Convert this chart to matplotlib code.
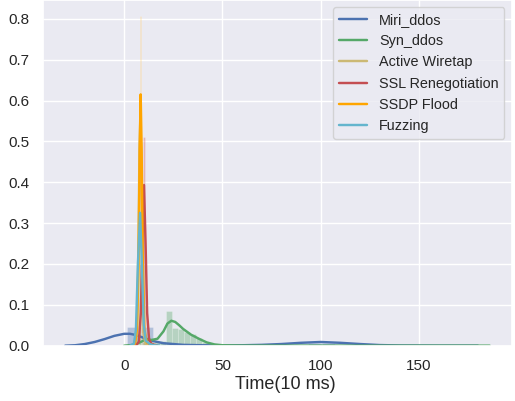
import numpy as np
import matplotlib
matplotlib.use("Agg")
import matplotlib.pyplot as plt
import seaborn as sns

sns.set_theme(style="darkgrid", color_codes=True)
plt.rcParams["font.family"] = ["Liberation Sans", "DejaVu Sans"]

# ── 読み取ったデータ ──────────────────────────────────────────────
labels = ["Miri_ddos", "Syn_ddos", "Active Wiretap", "SSL Renegotiation", "SSDP Flood", "Fuzzing"]
colors = ["b", "g", "y", "r", "orange", "c"]

# Miri_ddos
miri_edges = [1.3, 8.1, 14.9, 21.7, 28.5, 87.0, 93.8, 100.6, 107.4, 114.2]
miri_hist = [0.046, 0.046, 0.004, 0.001, 0.0, 0.005, 0.006, 0.006, 0.004]
miri_kde_x = [-30, -25, -20, -15, -10, -5, 0, 3, 6, 10, 15, 20, 30, 40, 50, 60, 70,
              80, 90, 100, 110, 120, 130, 140, 160, 180]
miri_kde_y = [0.0, 0.001, 0.004, 0.009, 0.016, 0.024, 0.029, 0.029, 0.026, 0.019,
              0.011, 0.006, 0.002, 0.001, 0.0005, 0.001, 0.002, 0.004, 0.007, 0.009,
              0.007, 0.004, 0.0015, 0.0005, 0.0001, 0.0]

# Syn_ddos
syn_edges = [0.0, 3.05, 6.1, 9.15, 12.2, 15.25, 18.3, 21.35, 24.4, 27.45, 30.5,
             33.55, 36.6, 39.65, 42.7, 45.75, 48.8]
syn_hist = [0.0, 0.002, 0.006, 0.012, 0.010, 0.012, 0.012, 0.084, 0.044, 0.040,
            0.034, 0.028, 0.018, 0.010, 0.005, 0.002]
syn_kde_x = [0, 5, 8, 11, 14, 17, 20, 22, 24, 26, 28, 30, 34, 38, 42, 46, 50, 60, 80, 120, 186]
syn_kde_y = [0.0, 0.002, 0.008, 0.015, 0.014, 0.017, 0.035, 0.054, 0.061, 0.058,
             0.050, 0.041, 0.027, 0.017, 0.008, 0.003, 0.001, 0.0003, 0.0001, 0.0, 0.0]

# Active Wiretap
wire_edges = [6.2, 6.9, 7.6, 8.3, 9.0]
wire_hist = [0.05, 0.499, 0.12, 0.02]
wire_kde_x = [5.5, 6.5, 7.2, 7.8, 8.2, 8.6, 9.2, 10.0, 11.0]
wire_kde_y = [0.0, 0.03, 0.22, 0.48, 0.55, 0.48, 0.22, 0.03, 0.0]

# SSL Renegotiation
ssl_edges = [8.4, 9.1, 9.8, 10.5, 11.2, 12.5, 14.0]
ssl_hist = [0.06, 0.15, 0.511, 0.10, 0.015, 0.008]
ssl_kde_x = [6, 7.5, 8.5, 9.3, 10.1, 10.9, 11.7, 12.7, 14, 17]
ssl_kde_y = [0.0, 0.01, 0.08, 0.25, 0.393, 0.25, 0.08, 0.015, 0.004, 0.0]

# SSDP Flood
ssdp_edges = [6.5, 7.2, 7.9, 8.7, 9.4, 10.1, 11.5, 13.0]
ssdp_hist = [0.05, 0.30, 0.807, 0.10, 0.02, 0.01, 0.005]
ssdp_kde_x = [4, 5.5, 6.5, 7.3, 7.9, 8.4, 8.9, 9.5, 10.3, 11.5, 13, 16]
ssdp_kde_y = [0.0, 0.005, 0.04, 0.2, 0.48, 0.615, 0.48, 0.2, 0.04, 0.008, 0.003, 0.0]

# Fuzzing
fuzz_edges = [6.0, 6.8, 7.6, 8.4, 9.2, 10.5]
fuzz_hist = [0.04, 0.36, 0.20, 0.03, 0.01]
fuzz_kde_x = [3, 5, 6, 7, 8.1, 9, 10, 11, 13, 15, 18]
fuzz_kde_y = [0.0, 0.005, 0.04, 0.2, 0.325, 0.2, 0.05, 0.012, 0.004, 0.001, 0.0]

series = [
    (miri_edges, miri_hist, miri_kde_x, miri_kde_y),
    (syn_edges, syn_hist, syn_kde_x, syn_kde_y),
    (wire_edges, wire_hist, wire_kde_x, wire_kde_y),
    (ssl_edges, ssl_hist, ssl_kde_x, ssl_kde_y),
    (ssdp_edges, ssdp_hist, ssdp_kde_x, ssdp_kde_y),
    (fuzz_edges, fuzz_hist, fuzz_kde_x, fuzz_kde_y),
]

# ── 描画 ─────────────────────────────────────────────────────────
fig = plt.figure(figsize=(5.15, 4.01), dpi=100)
ax = fig.add_axes([0.0835, 0.138, 0.910, 0.862])

for (edges, hist, kx, ky), lab, col in zip(series, labels, colors):
    edges = np.asarray(edges)
    ax.bar(edges[:-1], hist, width=np.diff(edges), align="edge",
           color=col, alpha=0.35, edgecolor="white", linewidth=0.4)
    ax.plot(kx, ky, color=col, linewidth=1.75, label=lab)

ax.set_xlim(-41.3, 197.2)
ax.set_ylim(0, 0.846)
ax.set_xticks([0, 50, 100, 150])
ax.set_yticks(np.arange(0, 0.81, 0.1))
ax.tick_params(labelsize=11)
ax.set_xlabel("Time(10 ms)", fontsize=13)
ax.xaxis.set_label_coords(0.516, -0.088)
ax.legend(loc="upper right", fontsize=10.4)

plt.savefig("out.png", dpi=100)
